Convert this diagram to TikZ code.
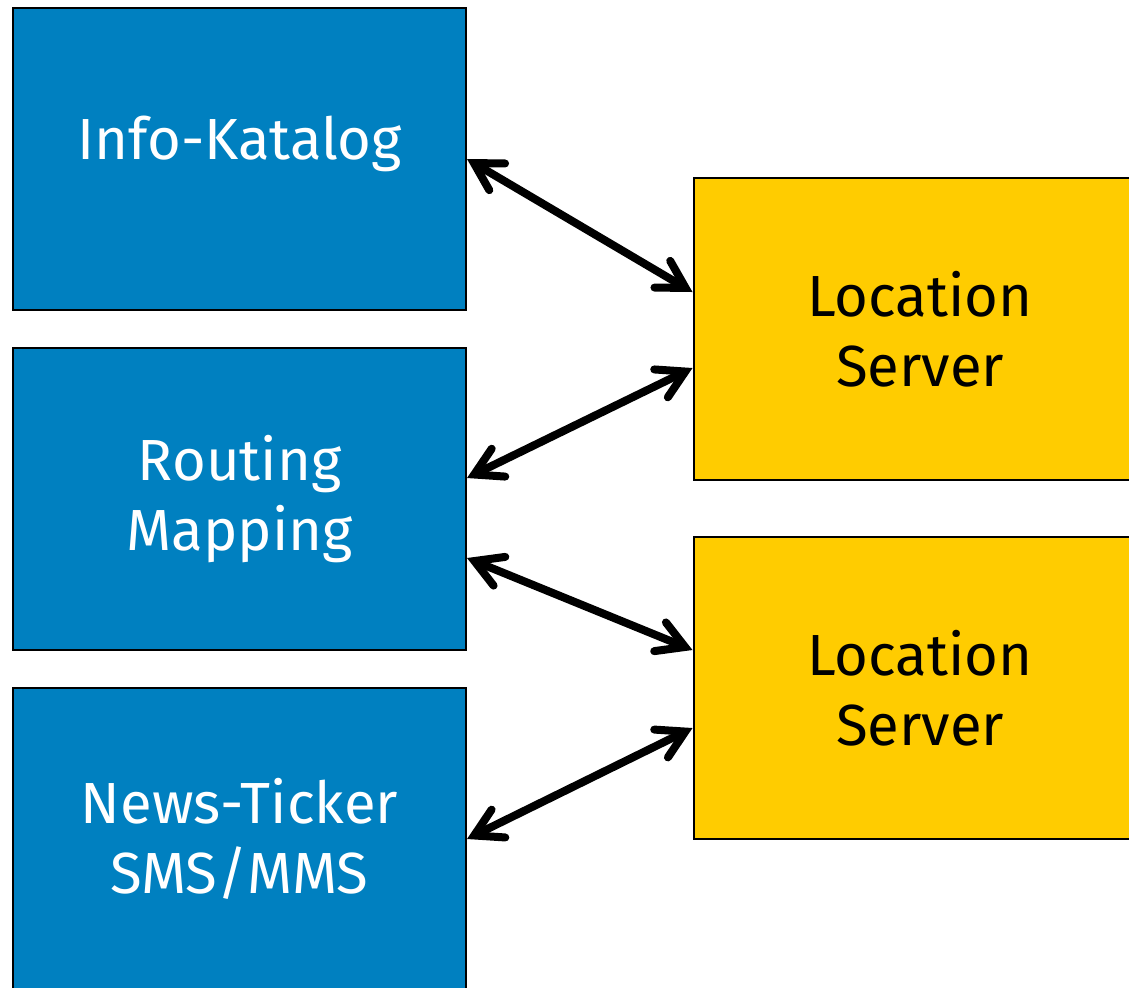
\documentclass[tikz,border=0pt]{standalone}
\usepackage{fontspec}
\setmainfont{Fira Sans}
\usetikzlibrary{arrows.meta}
\usetikzlibrary{positioning}

\definecolor{infoblue}{RGB}{0,128,192}
\definecolor{serveryellow}{RGB}{255,204,0}

\begin{document}
\begin{tikzpicture}[x=0.5pt,y=-0.5pt,
  box/.style={draw=black,line width=1pt,minimum width=226.5pt,minimum height=151pt,
    inner sep=0pt,align=center,font=\fontsize{29}{35}\selectfont},
  service/.style={box,fill=infoblue,text=white},
  server/.style={box,fill=serveryellow,text=black},
  >={Straight Barb[length=13.5pt,width=15.5pt,line cap=round]},
  link/.style={<->,line width=4pt}]
\clip (0,0) rectangle (1129,987);

% services on the left
\node[service,text height=0pt,text depth=0pt] (info) at (239.5,159) {Info-Katalog};
\node[service,below=18pt of info] (routing) {Routing\\Mapping};
\node[service,below=18pt of routing] (news) {News-Ticker\\SMS/MMS};

% location servers on the right
\node[server] (loc1) at (920,329) {Location\\Server};
\node[server,below=27.5pt of loc1] (loc2) {Location\\Server};

\draw[link] (info.east) -- ([yshift=18.5pt]loc1.west);
\draw[link] ([yshift=-19.5pt]loc1.west) -- ([yshift=10.5pt]routing.east);
\draw[link] ([yshift=-29.5pt]routing.east) -- ([yshift=19pt]loc2.west);
\draw[link] ([yshift=-20pt]loc2.west) -- (news.east);

\end{tikzpicture}
\end{document}
